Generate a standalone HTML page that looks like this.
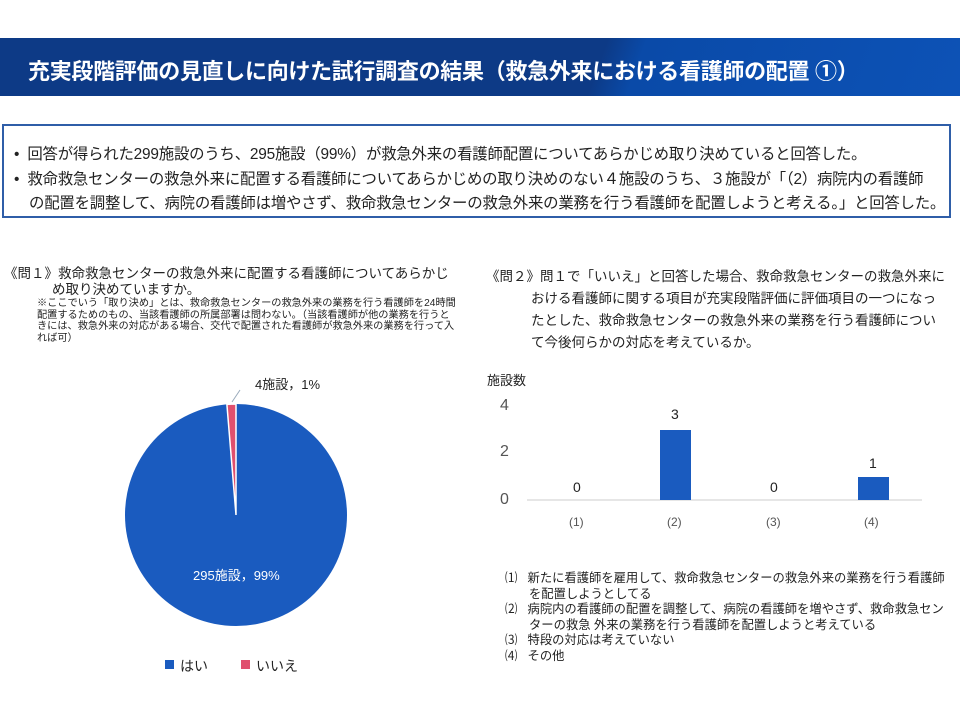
<!DOCTYPE html>
<html><head><meta charset="utf-8"><style>
body{margin:0;width:960px;height:720px;background:#fff;position:relative;overflow:hidden;font-family:"Liberation Sans","Noto Sans CJK JP",sans-serif;color:#222}
.a{position:absolute;white-space:nowrap}
#hd{position:absolute;left:0;top:38px;width:960px;height:58px;background:linear-gradient(110deg,#0d3a86 0%,#0d3a86 62%,#0a4aa8 66%,#0d52b6 100%)}
#box{position:absolute;left:2px;top:124px;width:945px;height:90px;border:2px solid #2f5ea8}
.t{font-size:15.4px;color:#222;letter-spacing:-0.2px}
</style></head><body>
<div id="hd"></div>
<div class="a" style="left:28px;top:54px;font-size:22px;font-weight:bold;color:#fff;letter-spacing:-0.3px">充実段階評価の見直しに向けた試行調査の結果（救急外来における看護師の配置 ①）</div>
<div id="box"></div>
<div class="a t" style="left:14px;top:142px">•&nbsp;&nbsp;回答が得られた299施設のうち、295施設（99%）が救急外来の看護師配置についてあらかじめ取り決めていると回答した。</div>
<div class="a t" style="left:14px;top:167px">•&nbsp;&nbsp;救命救急センターの救急外来に配置する看護師についてあらかじめの取り決めのない４施設のうち、３施設が「（2）病院内の看護師</div>
<div class="a t" style="left:29px;top:191px">の配置を調整して、病院の看護師は増やさず、救命救急センターの救急外来の業務を行う看護師を配置しようと考える。」と回答した。</div>

<div class="a" style="left:4px;top:266px;font-size:13.5px;line-height:16px">《問１》救命救急センターの救急外来に配置する看護師についてあらかじ<br><span style="padding-left:48px">め取り決めていますか。</span></div>
<div class="a" style="left:37px;top:298px;font-size:10.2px;line-height:11.5px">※ここでいう「取り決め」とは、救命救急センターの救急外来の業務を行う看護師を24時間<br>配置するためのもの、当該看護師の所属部署は問わない。（当該看護師が他の業務を行うと<br>きには、救急外来の対応がある場合、交代で配置された看護師が救急外来の業務を行って入<br>れば可）</div>

<svg class="a" style="left:0;top:0" width="960" height="720">
<circle cx="236" cy="515" r="111" fill="#1a5bbf"/>
<path d="M236 515 L236 404 A111 111 0 0 0 226.9 404.4 Z" fill="#e0506e" stroke="#fff" stroke-width="1.5"/>
<line x1="232" y1="402" x2="240" y2="390" stroke="#9ab" stroke-width="1"/>
<rect x="165" y="660" width="9" height="9" fill="#1a5bbf"/>
<rect x="241" y="660" width="9" height="9" fill="#e0506e"/>
<line x1="527" y1="500" x2="922" y2="500" stroke="#ccc"/>
<rect x="660" y="430" width="31" height="70" fill="#1a5bbf"/>
<rect x="858" y="477" width="31" height="23" fill="#1a5bbf"/>
</svg>
<div class="a" style="left:255px;top:374px;font-size:13px">4施設，1%</div>
<div class="a" style="left:193px;top:565px;font-size:13px;color:#fff">295施設，99%</div>
<div class="a" style="left:180px;top:656px;font-size:14px">はい</div>
<div class="a" style="left:256px;top:656px;font-size:14px">いいえ</div>

<div class="a" style="left:486px;top:266px;font-size:13.5px;line-height:22px">《問２》問１で「いいえ」と回答した場合、救命救急センターの救急外来に<br><span style="padding-left:45px">おける看護師に関する項目が充実段階評価に評価項目の一つになっ</span><br><span style="padding-left:45px">たとした、救命救急センターの救急外来の業務を行う看護師につい</span><br><span style="padding-left:45px">て今後何らかの対応を考えているか。</span></div>
<div class="a" style="left:487px;top:370px;font-size:13px">施設数</div>
<div class="a" style="left:500px;top:397px;font-size:16px;color:#555">4</div>
<div class="a" style="left:500px;top:443px;font-size:16px;color:#555">2</div>
<div class="a" style="left:500px;top:491px;font-size:16px;color:#555">0</div>
<div class="a" style="left:573px;top:479px;font-size:14px">0</div>
<div class="a" style="left:671px;top:406px;font-size:14px">3</div>
<div class="a" style="left:770px;top:479px;font-size:14px">0</div>
<div class="a" style="left:869px;top:455px;font-size:14px">1</div>
<div class="a" style="left:569px;top:515px;font-size:12px;color:#555">(1)</div>
<div class="a" style="left:667px;top:515px;font-size:12px;color:#555">(2)</div>
<div class="a" style="left:766px;top:515px;font-size:12px;color:#555">(3)</div>
<div class="a" style="left:864px;top:515px;font-size:12px;color:#555">(4)</div>
<div class="a" style="left:505px;top:571px;font-size:12.3px;line-height:15.5px">⑴&nbsp;&nbsp;&nbsp;新たに看護師を雇用して、救命救急センターの救急外来の業務を行う看護師<br><span style="padding-left:24px">を配置しようとしてる</span><br>⑵&nbsp;&nbsp;&nbsp;病院内の看護師の配置を調整して、病院の看護師を増やさず、救命救急セン<br><span style="padding-left:24px">ターの救急 外来の業務を行う看護師を配置しようと考えている</span><br>⑶&nbsp;&nbsp;&nbsp;特段の対応は考えていない<br>⑷&nbsp;&nbsp;&nbsp;その他</div>
</body></html>
